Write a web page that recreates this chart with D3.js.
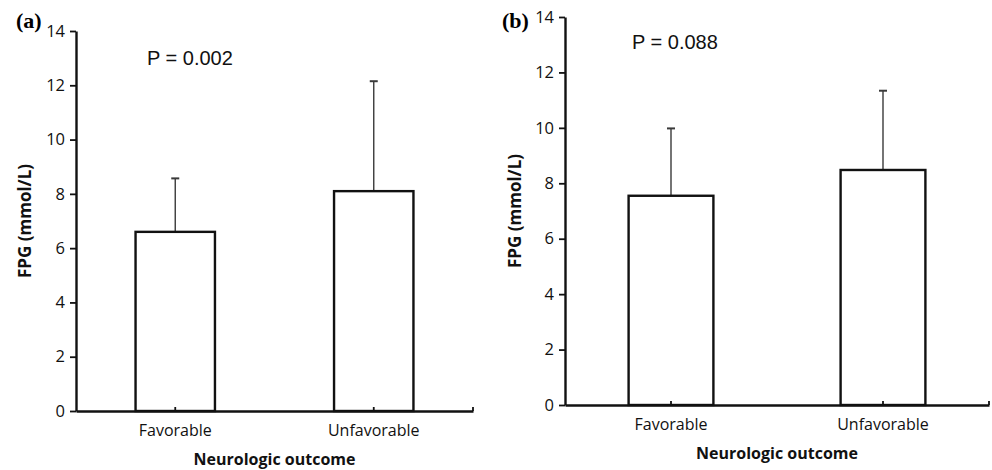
<!DOCTYPE html>
<html>
<head>
<meta charset="utf-8">
<script src="https://cdn.jsdelivr.net/npm/d3@7"></script>
<style>
  body { margin: 0; background: #fff; }
  svg { display: block; }
</style>
</head>
<body>
<div id="viz"></div>
<script>
const width = 992;
const height = 470;

// data
const categories = ['Favorable', 'Unfavorable'];
const meansA = [6.6, 8.1];
const upperA = [8.57, 12.15];
const meansB = [7.55, 8.48];
const upperB = [9.98, 11.34];
const yTicks = [0, 2, 4, 6, 8, 10, 12, 14];
const pLabels = ['P = 0.002', 'P = 0.088'];
const panelLabels = ['(a)', '(b)'];

const panels = [
    {left: 76, right: 473, top: 31, bottom: 411, means: meansA, upper: upperA,
     p: pLabels[0], tag: panelLabels[0], pX: 147, pY: 65, tagX: 16, labelX: 25},
    {left: 565, right: 989, top: 17, bottom: 405, means: meansB, upper: upperB,
     p: pLabels[1], tag: panelLabels[1], pX: 632, pY: 49, tagX: 502, labelX: 515}
];

const svg = d3.select('#viz')
    .append('svg')
        .attr('width', width)
        .attr('height', height);

const sans = "'Open Sans', sans-serif";

panels.forEach(cfg => {
    const g = svg.append('g');

    const x = d3.scaleBand()
        .domain(categories)
        .range([cfg.left, cfg.right])
        .paddingInner(0)
        .paddingOuter(0);

    const y = d3.scaleLinear()
        .domain([0, 14])
        .range([cfg.bottom, cfg.top]);

    const barW = x.bandwidth() * 0.4;
    const cx = d => x(d) + x.bandwidth() / 2;

    // error bars (behind bars)
    const err = g.append('g')
        .attr('stroke', '#3a3a3a')
        .attr('stroke-width', 1.4);
    categories.forEach((c, i) => {
        err.append('line')
            .attr('x1', cx(c)).attr('x2', cx(c))
            .attr('y1', y(cfg.means[i])).attr('y2', y(cfg.upper[i]));
        err.append('line')
            .attr('x1', cx(c) - 4).attr('x2', cx(c) + 4)
            .attr('y1', y(cfg.upper[i])).attr('y2', y(cfg.upper[i]))
            .attr('stroke-width', 2);
    });

    g.selectAll('rect.bar')
        .data(categories)
        .join('rect')
            .attr('class', 'bar')
            .attr('x', d => cx(d) - barW / 2)
            .attr('y', (d, i) => y(cfg.means[i]))
            .attr('width', barW)
            .attr('height', (d, i) => cfg.bottom - y(cfg.means[i]))
            .attr('fill', '#fff')
            .attr('stroke', '#111')
            .attr('stroke-width', 2.4);

    // y axis
    const yAxis = g.append('g')
        .attr('transform', `translate(${cfg.left},0)`)
        .call(d3.axisLeft(y).tickValues(yTicks).tickSize(6).tickSizeOuter(0).tickPadding(5));
    yAxis.select('.domain').attr('stroke', '#111').attr('stroke-width', 2.4);
    yAxis.selectAll('.tick line').attr('stroke', '#111').attr('stroke-width', 1.8);
    yAxis.selectAll('.tick text')
        .attr('font-family', sans)
        .attr('font-size', 16.5)
        .attr('fill', '#111');

    // x axis
    const xAxis = g.append('g')
        .attr('transform', `translate(0,${cfg.bottom})`)
        .call(d3.axisBottom(x).tickSize(-4).tickSizeOuter(0).tickPadding(14));
    xAxis.select('.domain').attr('stroke', '#111').attr('stroke-width', 2.4);
    xAxis.selectAll('.tick line').attr('stroke', '#111').attr('stroke-width', 1.8);
    xAxis.selectAll('.tick text')
        .attr('font-family', sans)
        .attr('font-size', 16)
        .attr('fill', '#111');
    xAxis.append('line')
        .attr('x1', cfg.right).attr('x2', cfg.right)
        .attr('y1', 0).attr('y2', -4)
        .attr('stroke', '#111')
        .attr('stroke-width', 1.8);

    // axis titles
    g.append('text')
        .attr('x', (cfg.left + cfg.right) / 2)
        .attr('y', cfg.bottom + 54)
        .attr('text-anchor', 'middle')
        .attr('font-family', sans)
        .attr('font-weight', 'bold')
        .attr('font-size', 16)
        .attr('fill', '#111')
        .text('Neurologic outcome');

    g.append('text')
        .attr('transform', `translate(${cfg.labelX + 6},${(cfg.top + cfg.bottom) / 2}) rotate(-90)`)
        .attr('text-anchor', 'middle')
        .attr('font-family', sans)
        .attr('font-weight', 'bold')
        .attr('font-size', 17)
        .attr('fill', '#111')
        .text('FPG (mmol/L)');

    // p value
    g.append('text')
        .attr('x', cfg.pX)
        .attr('y', cfg.pY)
        .attr('font-family', "'Liberation Sans', Arial, sans-serif")
        .attr('font-size', 20)
        .attr('fill', '#111')
        .text(cfg.p);

    // panel tag
    g.append('text')
        .attr('x', cfg.tagX)
        .attr('y', 28)
        .attr('font-family', "'Liberation Serif', 'Times New Roman', serif")
        .attr('font-weight', 'bold')
        .attr('font-size', 22)
        .attr('fill', '#000')
        .text(cfg.tag);
});
</script>
</body>
</html>
